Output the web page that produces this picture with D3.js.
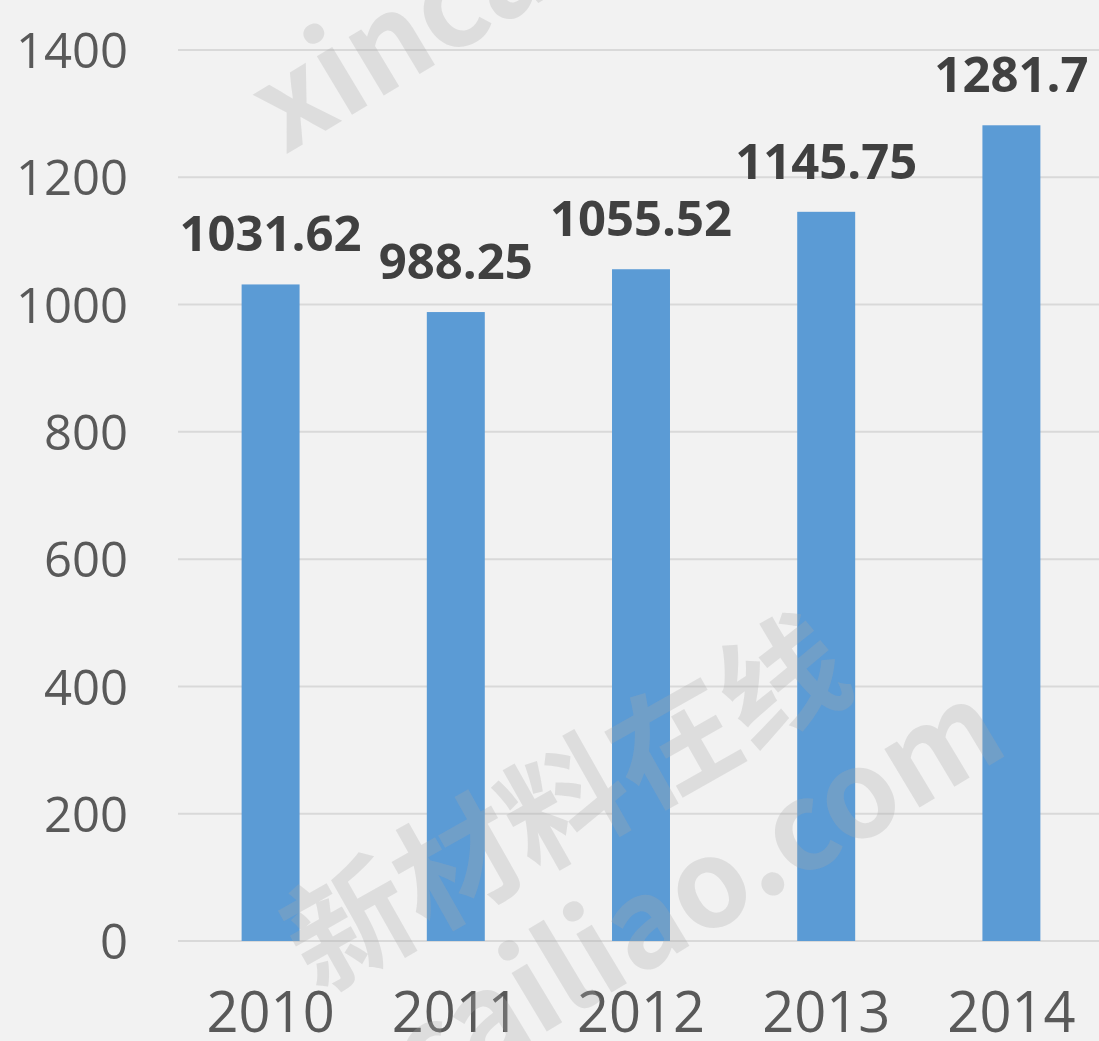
<html>
  <head>
    <meta charset="utf-8">
    <title>2010-2014</title>
    <style>
      body { margin: 0; background: #f2f2f2; }
      svg { display: block; }
      .tick text { font-family: "Open Sans", "Noto Sans", sans-serif; fill: #595959; }
      .label { font-family: "Open Sans", "Noto Sans", sans-serif; font-weight: 700; fill: #404040; }
      .mark { font-family: "Noto Sans CJK SC", sans-serif; font-weight: 700; fill: #aaaaaa; fill-opacity: 0.28; }
    </style>
    <script src="https://d3js.org/d3.v7.min.js"></script>
  </head>
  <body>
    <svg id="chart" width="1099" height="1041"></svg>
    <script>
      // data
      const years = ["2010", "2011", "2012", "2013", "2014"]
      const values = [1031.62, 988.25, 1055.52, 1145.75, 1281.7]
      const yTicks = [0, 200, 400, 600, 800, 1000, 1200, 1400]

      const svg = d3.select("#chart")
      const W = +svg.attr("width"), H = +svg.attr("height")

      svg.append("rect").attr("width", W).attr("height", H).attr("fill", "#f2f2f2")

      const x = d3.scaleBand()
                  .domain(years)
                  .range([178, 1104])
                  .paddingInner(0.687)
                  .paddingOuter(0.3435)

      const y = d3.scaleLinear()
                  .domain([0, 1400])
                  .range([941, 50])

      // gridlines
      svg.append("g")
         .selectAll("line")
         .data(yTicks)
         .join("line")
         .attr("x1", 178)
         .attr("x2", W)
         .attr("y1", d => y(d))
         .attr("y2", d => y(d))
         .attr("stroke", "#d9d9d9")
         .attr("stroke-width", 2)

      // y axis labels
      const yAxis = svg.append("g")
                       .attr("transform", "translate(128,0)")
                       .call(d3.axisLeft(y).tickValues(yTicks).tickFormat(d => d).tickSize(0).tickPadding(0))
      yAxis.select(".domain").remove()
      yAxis.selectAll("text").attr("font-size", 49).attr("dy", "0.36em")

      // x axis labels
      const xAxis = svg.append("g")
                       .attr("transform", "translate(0,941)")
                       .call(d3.axisBottom(x).tickSize(0).tickPadding(71))
      xAxis.select(".domain").remove()
      xAxis.selectAll("text").attr("font-size", 56).attr("dy", "0.36em")

      // bars
      svg.append("g")
         .selectAll("rect")
         .data(values)
         .join("rect")
         .attr("x", (d, i) => x(years[i]))
         .attr("width", x.bandwidth())
         .attr("y", d => y(d))
         .attr("height", d => y(0) - y(d))
         .attr("fill", "#5b9bd5")

      // value labels
      svg.append("g")
         .selectAll("text")
         .data(values)
         .join("text")
         .attr("class", "label")
         .attr("x", (d, i) => x(years[i]) + x.bandwidth() / 2)
         .attr("y", d => y(d) - 33)
         .attr("text-anchor", "middle")
         .attr("font-size", 49)
         .text(d => d)

      // watermark
      const wm = svg.append("g").attr("pointer-events", "none")
      wm.append("text").attr("class", "mark")
        .attr("transform", "translate(285,155) rotate(-31)")
        .attr("font-size", 122)
        .text("xincailiao.com")
      wm.append("text").attr("class", "mark")
        .attr("transform", "translate(318,995) rotate(-29.5)")
        .attr("font-size", 124)
        .text("新材料在线")
      wm.append("text").attr("class", "mark")
        .attr("transform", "translate(1012,752) rotate(-31)")
        .attr("text-anchor", "end")
        .attr("font-size", 122)
        .text("xincailiao.com")
    </script>
  </body>
</html>
